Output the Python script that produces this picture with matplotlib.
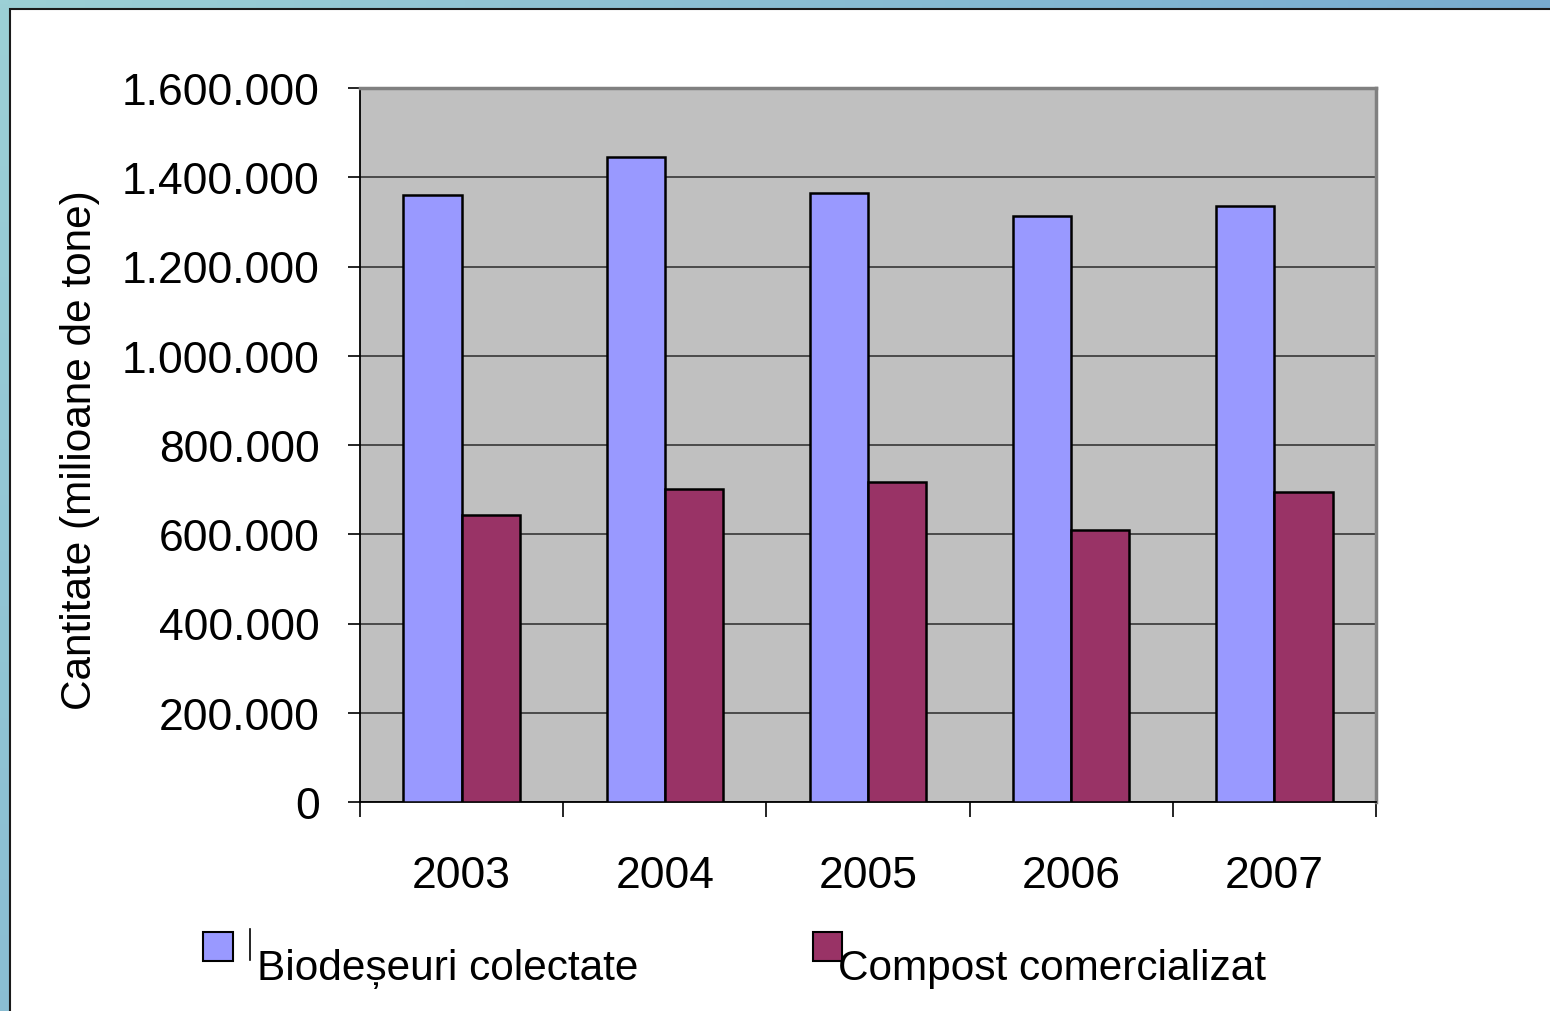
import numpy as np
import matplotlib
matplotlib.use('Agg')
import matplotlib.pyplot as plt
from matplotlib.patches import Rectangle
from matplotlib.ticker import FuncFormatter, FixedLocator

plt.rcParams['font.family'] = ['Liberation Sans', 'DejaVu Sans']

# data
years = ['2003', '2004', '2005', '2006', '2007']
biodeseuri = [1360000, 1445000, 1365000, 1313000, 1336000]
compost = [643000, 701000, 717000, 610000, 695000]
series_names = ['Biodeșeuri colectate', 'Compost comercializat']
y_ticks = [0, 200000, 400000, 600000, 800000, 1000000, 1200000, 1400000, 1600000]

blue = '#9999FF'
plum = '#993366'

fig = plt.figure(figsize=(15.5, 10.12), dpi=100)

# gradient frame behind the white slide area
bg = fig.add_axes([0, 0, 1, 1], zorder=-10)
gx, gy = np.meshgrid(np.linspace(0, 1, 200), np.linspace(0, 1, 200))
t = (gx * 0.8 + gy * 0.4) / 1.2
c0 = np.array([0x9C, 0xD0, 0xD6]) / 255
c1 = np.array([0x66, 0x99, 0xCC]) / 255
img = c0[None, None, :] * (1 - t[..., None]) + c1[None, None, :] * t[..., None]
bg.imshow(img, aspect='auto', extent=[0, 1, 1, 0])
bg.set_xlim(0, 1)
bg.set_ylim(1, 0)
bg.axis('off')
bg.add_patch(Rectangle((10 / 1550, 10 / 1012), 1.0, 1.0, facecolor='white',
                       edgecolor='#1a1a1a', linewidth=1.5))

ax = fig.add_axes([360 / 1550, 1 - 803 / 1012, 1016 / 1550, 714 / 1012])
ax.set_facecolor('#C0C0C0')

x = np.arange(len(years))
w = 0.286
ax.bar(x - w / 2, biodeseuri, w, color=blue, edgecolor='black', linewidth=1.8, zorder=3)
ax.bar(x + w / 2, compost, w, color=plum, edgecolor='black', linewidth=1.8, zorder=3)

ax.set_xlim(-0.5, len(years) - 0.5)
ax.set_ylim(0, 1600000)
ax.set_yticks(y_ticks)
ax.yaxis.set_major_formatter(FuncFormatter(lambda v, p: f'{v:,.0f}'.replace(',', '.')))
ax.yaxis.grid(True, color='#2a2a2a', linewidth=1.1, zorder=1)
ax.set_axisbelow(True)

# ticks at category boundaries, labels at centres
ax.xaxis.set_major_locator(FixedLocator(np.arange(len(years) + 1) - 0.5))
ax.xaxis.set_major_formatter(FuncFormatter(lambda v, p: ''))
ax.xaxis.set_minor_locator(FixedLocator(x))
ax.set_xticklabels(years, minor=True)
ax.tick_params(axis='x', which='major', direction='out', length=11, width=1.2, color='black')
ax.tick_params(axis='x', which='minor', length=0, pad=38, labelsize=32)
ax.tick_params(axis='y', direction='out', length=9, width=1.2, pad=20, labelsize=32)

for s in ['top', 'right']:
    ax.spines[s].set_color('#808080')
    ax.spines[s].set_linewidth(2.5)
for s in ['left', 'bottom']:
    ax.spines[s].set_color('black')
    ax.spines[s].set_linewidth(1.3)

ax.set_ylabel('Cantitate (milioane de tone)', fontsize=30.5)
ax.yaxis.set_label_coords(-0.256, 0.494)

# legend drawn by hand as in the original slide
W, H = 1550, 1012
fig.patches.append(Rectangle((203 / W, 1 - 962 / H), 30 / W, 29 / H, facecolor=blue,
                             edgecolor='black', linewidth=1.5, transform=fig.transFigure))
fig.patches.append(Rectangle((813 / W, 1 - 962 / H), 29 / W, 29 / H, facecolor=plum,
                             edgecolor='black', linewidth=1.5, transform=fig.transFigure))
fig.add_artist(plt.Line2D([250 / W, 250 / W], [1 - 930 / H, 1 - 961 / H], color='black',
                          linewidth=1.2, transform=fig.transFigure))
fig.text(257 / W, 1 - 980 / H, series_names[0], fontsize=30.5, va='baseline', ha='left')
fig.text(838 / W, 1 - 980 / H, series_names[1], fontsize=30.5, va='baseline', ha='left')

fig.savefig('out.png', dpi=100)
